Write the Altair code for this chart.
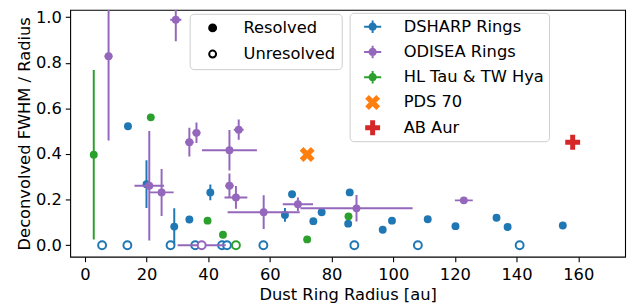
import altair as alt
import pandas as pd

# ---------------- data ----------------
series_names = ["DSHARP Rings", "ODISEA Rings", "HL Tau & TW Hya", "PDS 70", "AB Aur"]
series_colors = ["#1f77b4", "#9467bd", "#2ca02c", "#ff7f0e", "#d62728"]

dsharp_x = [14.0, 20.0, 29.0, 33.9, 40.7, 67.2, 64.9, 74.1, 76.8, 85.9, 85.4, 96.6, 99.6, 111.2, 120.2, 133.5, 137.1, 155.0]
dsharp_y = [0.522, 0.268, 0.082, 0.113, 0.232, 0.224, 0.133, 0.106, 0.145, 0.232, 0.095, 0.068, 0.108, 0.114, 0.084, 0.121, 0.080, 0.087]
dsharp_xerr = [0] * 18
dsharp_yerr = [0.0, 0.105, 0.08, 0.0, 0.035, 0.0, 0.03, 0.0, 0.0, 0.0, 0.0, 0.0, 0.0, 0.0, 0.0, 0.0, 0.0, 0.0]
dsharp_unres_x = [5.6, 13.8, 27.8, 35.8, 44.5, 46.1, 57.9, 87.4, 108.0, 141.0]
dsharp_unres_xerr = [0] * 10

odisea_x = [7.7, 29.5, 20.9, 24.9, 33.9, 36.2, 46.9, 49.9, 46.9, 49.0, 58.0, 69.1, 88.1, 122.9]
odisea_y = [0.829, 0.989, 0.261, 0.232, 0.452, 0.493, 0.417, 0.507, 0.261, 0.210, 0.145, 0.180, 0.162, 0.197]
odisea_xerr = [1.3, 1.8, 4.8, 3.9, 1.4, 1.3, 8.9, 1.6, 1.4, 3.7, 11.7, 4.9, 18.2, 2.9]
odisea_yerr = [0.37, 0.095, 0.24, 0.103, 0.063, 0.045, 0.089, 0.044, 0.054, 0.05, 0.074, 0.03, 0.058, 0.01]
odisea_unres_x = [37.9]
odisea_unres_xerr = [7.8]

hl_x = [2.9, 21.4, 39.8, 44.8, 72.1, 85.5]
hl_y = [0.397, 0.561, 0.108, 0.046, 0.026, 0.127]
hl_xerr = [0, 0, 0, 0, 0, 0]
hl_yerr = [0.372, 0, 0, 0, 0, 0]
hl_unres_x = [49.0]
hl_unres_xerr = [0]

pds_x = [72.1]
pds_y = [0.398]
abaur_x = [158.2]
abaur_y = [0.452]

x_ticks = [0, 20, 40, 60, 80, 100, 120, 140, 160]
y_ticks = [0.0, 0.2, 0.4, 0.6, 0.8, 1.0]
status_names = ["Resolved", "Unresolved"]

# ---------------- shapes ----------------
CROSSHAIR = ("M-1,-0.115H1V0.115H-1Z M-0.115,-0.73H0.115V0.73H-0.115Z "
             "M-0.48,0A0.48,0.48 0 1,1 0.48,0A0.48,0.48 0 1,1 -0.48,0Z")
X_FILLED = ("M-0.435,-0.87L0,-0.435L0.435,-0.87L0.87,-0.435L0.435,0L0.87,0.435"
            "L0.435,0.87L0,0.435L-0.435,0.87L-0.87,0.435L-0.435,0L-0.87,-0.435Z")
P_FILLED = ("M-0.29,-0.87L0.29,-0.87L0.29,-0.29L0.87,-0.29L0.87,0.29L0.29,0.29"
            "L0.29,0.87L-0.29,0.87L-0.29,0.29L-0.87,0.29L-0.87,-0.29L-0.29,-0.29Z")
series_shapes = [CROSSHAIR, CROSSHAIR, CROSSHAIR, X_FILLED, P_FILLED]

FONT = "DejaVu Sans"
FS = 16.5

xscale = alt.Scale(domain=[-4.74, 175.2], nice=False, zero=False)
yscale = alt.Scale(domain=[-0.050, 1.032], nice=False, zero=False)
x_axis = alt.Axis(title="Dust Ring Radius [au]", values=x_ticks, format="d", grid=False, domain=False,
                  tickSize=5, tickWidth=1.1, tickColor="black", labelFontSize=FS, labelFont=FONT,
                  labelColor="black", titleFontSize=FS, titleFont=FONT, titleFontWeight="normal",
                  titleColor="black", labelPadding=5, titlePadding=4, labelFlush=False)
y_axis = alt.Axis(title="Deconvolved FWHM / Radius", values=y_ticks, format=".1f", grid=False, domain=False,
                  tickSize=5, tickWidth=1.1, tickColor="black", labelFontSize=FS, labelFont=FONT,
                  labelColor="black", titleFontSize=FS, titleFont=FONT, titleFontWeight="normal",
                  titleColor="black", labelPadding=4, titlePadding=3, labelFlush=False)


def X(f):
    return alt.X(f, type="quantitative", scale=xscale, axis=x_axis)


def Y(f):
    return alt.Y(f, type="quantitative", scale=yscale, axis=y_axis)


def series_layers(color, x, y, xerr, yerr, ux, uxerr, shape="circle", size=64):
    df = pd.DataFrame({"x": x, "y": y, "xerr": xerr, "yerr": yerr})
    df["x_lo"] = df["x"] - df["xerr"]
    df["x_hi"] = df["x"] + df["xerr"]
    df["y_lo"] = df["y"] - df["yerr"]
    df["y_hi"] = df["y"] + df["yerr"]
    layers = []
    hx = df[df["xerr"] > 0]
    vy = df[df["yerr"] > 0]
    if len(hx):
        layers.append(alt.Chart(hx).mark_rule(color=color, strokeWidth=2, clip=True).encode(
            x=X("x_lo"), x2="x_hi", y=Y("y")))
    if len(vy):
        layers.append(alt.Chart(vy).mark_rule(color=color, strokeWidth=2, clip=True).encode(
            x=X("x"), y=Y("y_lo"), y2="y_hi"))
    if ux:
        udf = pd.DataFrame({"x": ux, "xerr": uxerr})
        udf["y"] = 0.0
        udf["x_lo"] = udf["x"] - udf["xerr"]
        udf["x_hi"] = udf["x"] + udf["xerr"]
        uh = udf[udf["xerr"] > 0]
        if len(uh):
            layers.append(alt.Chart(uh).mark_rule(color=color, strokeWidth=2, clip=True).encode(
                x=X("x_lo"), x2="x_hi", y=Y("y")))
    layers.append(alt.Chart(df).mark_point(filled=True, shape=shape, size=size, color=color,
                                           opacity=1, clip=True).encode(x=X("x"), y=Y("y")))
    if ux:
        layers.append(alt.Chart(udf).mark_point(filled=False, shape="circle", size=64, color=color,
                                                fill="white", strokeWidth=2, opacity=1, clip=True).encode(
            x=X("x"), y=Y("y")))
    return layers


layers = []
layers += series_layers(series_colors[0], dsharp_x, dsharp_y, dsharp_xerr, dsharp_yerr, dsharp_unres_x, dsharp_unres_xerr)
layers += series_layers(series_colors[1], odisea_x, odisea_y, odisea_xerr, odisea_yerr, odisea_unres_x, odisea_unres_xerr)
layers += series_layers(series_colors[2], hl_x, hl_y, hl_xerr, hl_yerr, hl_unres_x, hl_unres_xerr)
layers += series_layers(series_colors[3], pds_x, pds_y, [0], [0], [], [], shape=X_FILLED, size=300)
layers += series_layers(series_colors[4], abaur_x, abaur_y, [0], [0], [], [], shape=P_FILLED, size=300)

# ---------------- legends ----------------
series_legend = alt.Legend(title=None, orient="none", legendX=283, legendY=3, padding=5, rowPadding=7.6,
                           symbolOffset=9.3, labelOffset=22.4, labelFontSize=FS, labelFont=FONT, labelColor="black",
                           symbolSize=300, symbolOpacity=1, symbolStrokeWidth=0, strokeColor="#cccccc",
                           fillColor="white", cornerRadius=4)
series_df = pd.DataFrame({"series": series_names})
legend_series = alt.Chart(series_df).mark_point(filled=True, opacity=0).encode(
    color=alt.Color("series:N", scale=alt.Scale(domain=series_names, range=series_colors), legend=series_legend),
    shape=alt.Shape("series:N", scale=alt.Scale(domain=series_names, range=series_shapes), legend=series_legend),
)

res_legend = alt.Legend(title=None, orient="none", legendX=121, legendY=4, padding=6, rowPadding=9.5,
                        symbolOffset=9, labelOffset=23, labelFontSize=FS, labelFont=FONT, labelColor="black",
                        symbolSize=49, symbolType="circle", symbolStrokeColor="black", symbolStrokeWidth=2,
                        symbolOpacity=1, strokeColor="#cccccc", fillColor="white", cornerRadius=4)
status_df = pd.DataFrame({"status": status_names})
legend_status = alt.Chart(status_df).mark_point(filled=True, opacity=0, shape="circle").encode(
    fill=alt.Fill("status:N", scale=alt.Scale(domain=status_names, range=["black", "white"]), legend=res_legend),
)

chart = alt.layer(*layers, legend_status, legend_series).properties(
    width=562, height=250,
    autosize=alt.AutoSizeParams(type="none"),
    padding={"left": 63, "top": 0, "right": 8, "bottom": 47},
).configure_view(stroke="black", strokeWidth=1.1)

chart.save("out.html", embed_options={"renderer": "svg", "actions": False})
